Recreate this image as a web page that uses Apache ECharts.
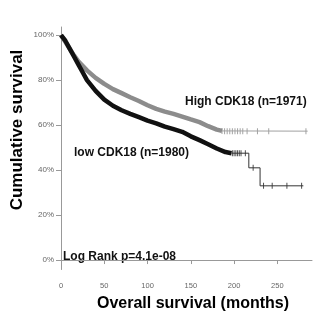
<!DOCTYPE html>
<html>
<head>
<meta charset="utf-8">
<script src="https://cdn.jsdelivr.net/npm/echarts@6/dist/echarts.min.js"></script>
<style>
  html, body { margin: 0; padding: 0; background: #fff; }
  #chart { width: 313px; height: 315px; }
</style>
</head>
<body>
<div id="chart"></div>
<script>
// High CDK18 curve (months / survival %), dense part drawn as thick band
const highMonths = [0, 5, 10, 15, 20, 30, 40, 50, 60, 70, 80, 90, 100, 110, 120, 130, 140, 150, 160, 170, 180, 186];
const highSurv = [100, 97, 94, 91, 88.3, 84.3, 81, 78.3, 76, 74.2, 72.4, 70.7, 68.8, 67.2, 66, 65, 63.8, 62.5, 61.3, 59.5, 58, 57.4];
// tail of the high curve (step line)
const highTailMonths = [186, 192, 285];
const highTailSurv = [57.4, 57.3, 57.3];
const highCensorMonths = [186, 189, 192, 195, 198, 201, 204, 207, 210, 215, 227, 240, 283];
const highCensorSurv = [57.4, 57.3, 57.3, 57.3, 57.3, 57.3, 57.3, 57.3, 57.3, 57.3, 57.3, 57.3, 57.3];

// low CDK18 curve
const lowMonths = [0, 5, 10, 15, 20, 25, 30, 40, 50, 60, 70, 80, 90, 100, 110, 120, 130, 140, 150, 160, 170, 180, 190, 197];
const lowSurv = [100, 97.5, 94, 90.5, 87, 83.5, 80, 75.2, 71.3, 68.6, 66.6, 65, 63.5, 62, 60.8, 59.3, 58.2, 57, 55, 53.3, 51.5, 49.6, 48, 47.5];
const lowTailMonths = [197, 217, 230, 280];
const lowTailSurv = [47.5, 41, 33, 33];
const lowCensorMonths = [198, 200, 202, 204, 206, 208, 213, 222, 234, 244, 261, 278];
const lowCensorSurv = [47.5, 47.5, 47.5, 47.5, 47.5, 47.5, 47.5, 41, 33, 33, 33, 33];

const yTicks = [0, 20, 40, 60, 80, 100];

const zip = (xs, ys) => xs.map((x, i) => [x, ys[i]]);

const chart = echarts.init(document.getElementById('chart'));
const fontFam = '"Liberation Sans", Arial, sans-serif';

const option = {
  animation: false,
  grid: { left: 61, right: 1, top: 27, bottom: 45.5, containLabel: false },
  xAxis: {
    type: 'value',
    min: 0,
    max: 290,
    interval: 50,
    axisLine: { lineStyle: { color: '#999', width: 1 } },
    axisTick: { length: 4, lineStyle: { color: '#999' } },
    axisLabel: { fontSize: 7.5, color: '#666', margin: 12, showMaxLabel: false, fontFamily: fontFam },
    splitLine: { show: false }
  },
  yAxis: {
    type: 'value',
    min: -4.2,
    max: 103.6,
    axisLine: { show: true, lineStyle: { color: '#999', width: 1 } },
    axisTick: { show: true, length: 5, customValues: yTicks, lineStyle: { color: '#999' } },
    axisLabel: { customValues: yTicks, formatter: '{value}%', fontSize: 8, color: '#666', margin: 7, fontFamily: fontFam },
    splitLine: { show: false }
  },
  graphic: [
    { type: 'text', x: 17, y: 130, rotation: Math.PI / 2,
      style: { text: 'Cumulative survival', font: 'bold 17px ' + fontFam, fill: '#000', align: 'center', verticalAlign: 'middle' } },
    { type: 'text', x: 193, y: 304,
      style: { text: 'Overall survival (months)', font: 'bold 16px ' + fontFam, fill: '#000', align: 'center', verticalAlign: 'middle' } },
    { type: 'text', x: 185, y: 102,
      style: { text: 'High CDK18 (n=1971)', font: 'bold 12px ' + fontFam, fill: '#111', align: 'left', verticalAlign: 'middle' } },
    { type: 'text', x: 74, y: 153,
      style: { text: 'low CDK18 (n=1980)', font: 'bold 12px ' + fontFam, fill: '#111', align: 'left', verticalAlign: 'middle' } },
    { type: 'text', x: 63, y: 257,
      style: { text: 'Log Rank p=4.1e-08', font: 'bold 12px ' + fontFam, fill: '#111', align: 'left', verticalAlign: 'middle' } }
  ],
  series: [
    {
      type: 'line', data: zip(highMonths, highSurv), showSymbol: false,
      lineStyle: { color: '#8c8c8c', width: 4.5 }
    },
    {
      type: 'line', step: 'end', data: zip(highTailMonths, highTailSurv), showSymbol: false,
      lineStyle: { color: '#a0a0a0', width: 1 }
    },
    {
      type: 'scatter', data: zip(highCensorMonths, highCensorSurv), symbol: 'rect', symbolSize: [1, 6],
      itemStyle: { color: '#8c8c8c' }
    },
    {
      type: 'line', data: zip(lowMonths, lowSurv), showSymbol: false,
      lineStyle: { color: '#111', width: 4.5 }
    },
    {
      type: 'line', step: 'end', data: zip(lowTailMonths, lowTailSurv), showSymbol: false,
      lineStyle: { color: '#333', width: 1 }
    },
    {
      type: 'scatter', data: zip(lowCensorMonths, lowCensorSurv), symbol: 'rect', symbolSize: [1, 6],
      itemStyle: { color: '#222' }
    }
  ]
};

chart.setOption(option);
</script>
</body>
</html>
